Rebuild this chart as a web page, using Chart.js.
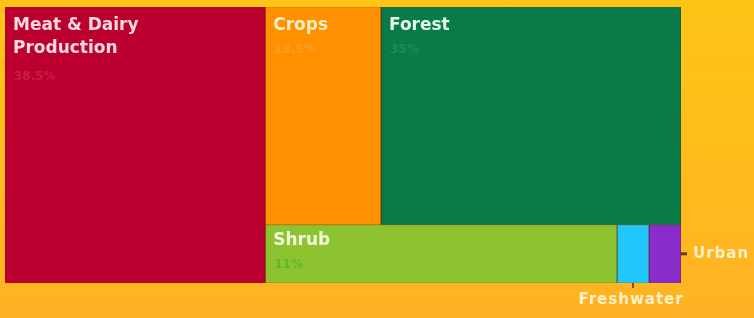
<!DOCTYPE html>
<html>
<head>
<meta charset="utf-8">
<script src="https://cdn.jsdelivr.net/npm/chart.js@4/dist/chart.umd.min.js"></script>
<style>
  html, body { margin: 0; padding: 0; }
  body {
    width: 754px; height: 318px; overflow: hidden;
    background: linear-gradient(180deg, #fec417 0%, #ffbb1c 55%, #ffb224 100%);
  }
  #chart { display: block; }
</style>
</head>
<body>
<canvas id="chart" width="754" height="318"></canvas>
<script>
const categories = ['Meat & Dairy Production', 'Crops', 'Forest', 'Shrub', 'Freshwater', 'Urban'];
const nameLines = [['Meat & Dairy', 'Production'], ['Crops'], ['Forest'], ['Shrub'], ['Freshwater'], ['Urban']];
const shares = [38.5, 13.5, 35, 11, 1, 1];
const shareLabels = ['38.5%', '13.5%', '35%', '11%', '1%', '1%'];
const colors = ['#bb0030', '#ff9100', '#097b48', '#8dc331', '#22c8fb', '#8a2ccb'];
const nameColors = ['#f7d9df', '#ffeec4', '#e2f6e9', '#f2fbd9', '#fff2c8', '#fff2c8'];
const pctColors = ['#cb1c44', '#fb9d22', '#1d8b56', '#5db82a', null, null];
// first item is a full-height column, the rest split into two rows
const rowGroups = [[1, 2], [3, 4, 5]];

function layout() {
  const total = shares.reduce((a, b) => a + b, 0);
  const rects = [];
  const colW = shares[0] / total;
  rects[0] = {x0: 0, x1: colW, y0: 0, y1: 1};
  const rest = total - shares[0];
  let y = 0;
  rowGroups.forEach((row) => {
    const rowSum = row.reduce((a, i) => a + shares[i], 0);
    const h = rowSum / rest;
    let x = colW;
    row.forEach((i) => {
      const w = shares[i] / rowSum * (1 - colW);
      rects[i] = {x0: x, x1: x + w, y0: y, y1: y + h};
      x += w;
    });
    y += h;
  });
  return rects;
}

const rects = layout();

const datasets = categories.map((name, i) => {
  const r = rects[i];
  return {
    label: name,
    data: [
      {x: r.x0, y: r.y0}, {x: r.x1, y: r.y0}, {x: r.x1, y: r.y1},
      {x: r.x0, y: r.y1}, {x: r.x0, y: r.y0}
    ],
    showLine: true,
    fill: 'shape',
    tension: 0,
    backgroundColor: colors[i],
    borderColor: 'rgba(90,30,0,0.25)',
    borderWidth: 1,
    pointRadius: 0
  };
});

const labelPlugin = {
  id: 'treeLabels',
  afterDatasetsDraw(chart) {
    const {ctx, scales: {x, y}} = chart;
    ctx.save();
    ctx.textBaseline = 'middle';
    ctx.textAlign = 'left';
    rects.forEach((r, i) => {
      const px0 = x.getPixelForValue(r.x0);
      const px1 = x.getPixelForValue(r.x1);
      const py0 = y.getPixelForValue(r.y0);
      const py1 = y.getPixelForValue(r.y1);
      if (i <= 3) {
        const top = i === 3 ? py0 + 16 : py0 + 19;
        ctx.font = 'bold 17px "DejaVu Sans"';
        ctx.fillStyle = nameColors[i];
        nameLines[i].forEach((line, k) => ctx.fillText(line, px0 + 8, top + k * 23));
        ctx.font = 'bold 12px "DejaVu Sans"';
        ctx.fillStyle = pctColors[i];
        ctx.fillText(shareLabels[i], px0 + 9, top + (nameLines[i].length - 1) * 23 + (i === 0 ? 28 : 24));
      } else if (categories[i] === 'Freshwater') {
        const cx = (px0 + px1) / 2;
        ctx.strokeStyle = '#8a5200';
        ctx.lineWidth = 2;
        ctx.beginPath();
        ctx.moveTo(cx, py1);
        ctx.lineTo(cx, py1 + 5);
        ctx.stroke();
        ctx.font = 'bold 15px "DejaVu Sans"';
        ctx.letterSpacing = '1px';
        ctx.fillStyle = nameColors[i];
        ctx.textAlign = 'center';
        ctx.fillText(nameLines[i][0], cx - 2, py1 + 17);
        ctx.textAlign = 'left';
      } else {
        const cy = (py0 + py1) / 2;
        ctx.strokeStyle = '#6a3a00';
        ctx.lineWidth = 3;
        ctx.beginPath();
        ctx.moveTo(px1, cy);
        ctx.lineTo(px1 + 6, cy);
        ctx.stroke();
        ctx.font = 'bold 15px "DejaVu Sans"';
        ctx.letterSpacing = '1px';
        ctx.fillStyle = nameColors[i];
        ctx.fillText(nameLines[i][0], px1 + 12, cy);
      }
    });
    ctx.restore();
  }
};

new Chart(document.getElementById('chart'), {
  type: 'scatter',
  data: {datasets},
  options: {
    responsive: false,
    animation: false,
    layout: {padding: {left: 5, right: 73, top: 7, bottom: 35}},
    scales: {
      x: {type: 'linear', min: 0, max: 1, display: false},
      y: {type: 'linear', min: 0, max: 1, reverse: true, display: false}
    },
    plugins: {legend: {display: false}, tooltip: {enabled: false}}
  },
  plugins: [labelPlugin]
});
</script>
</body>
</html>
